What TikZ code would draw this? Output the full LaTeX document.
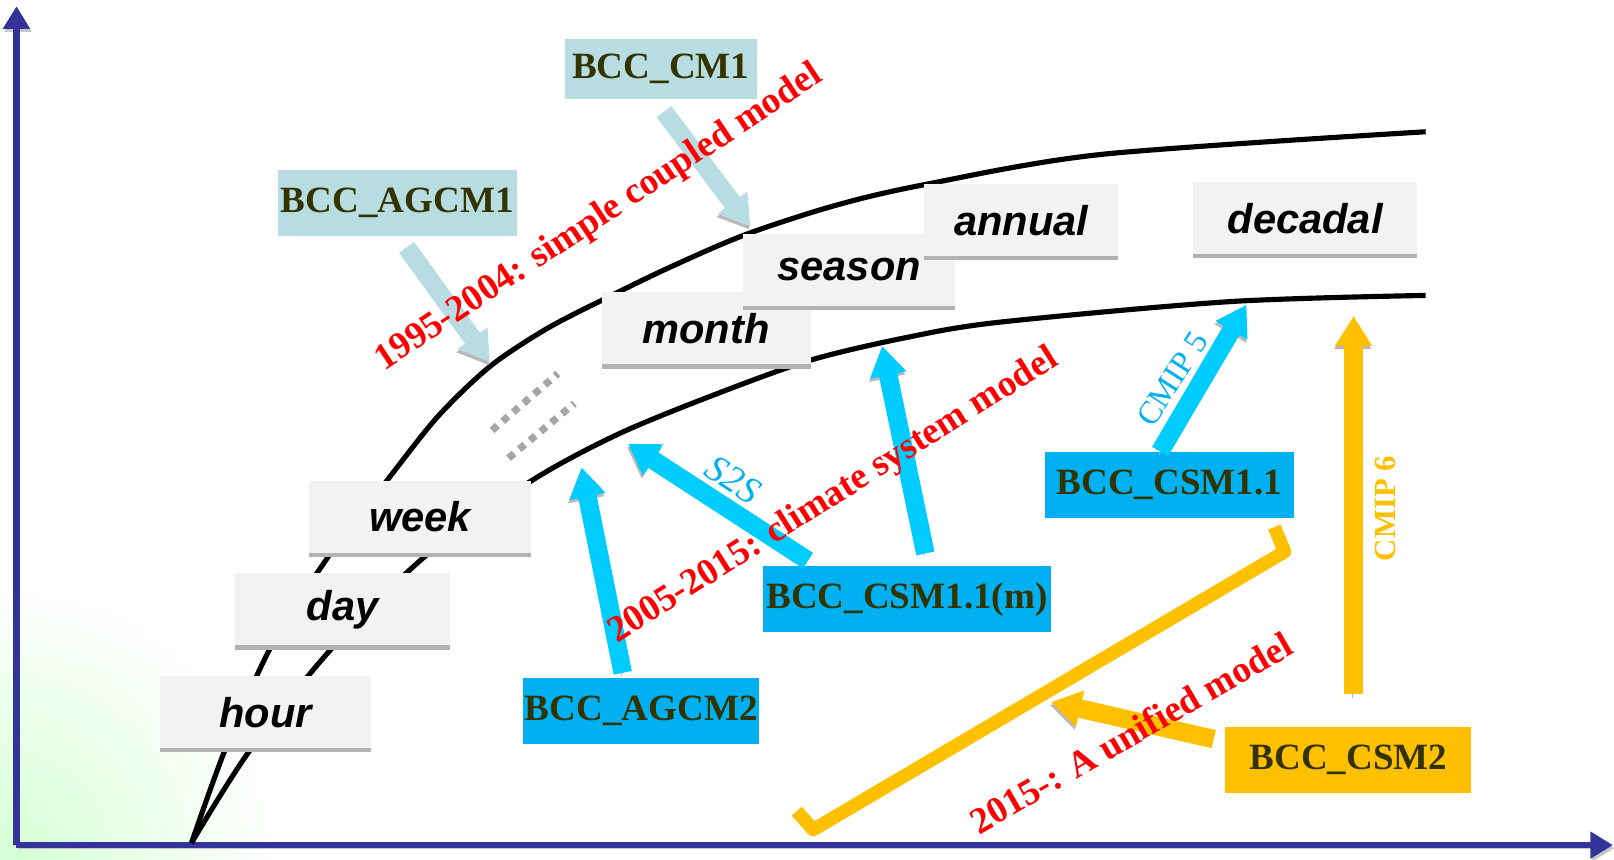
\documentclass[tikz,border=0pt]{standalone}
\usepackage{fontspec}
\setmainfont{Liberation Serif}
\newfontfamily\arialfont{Liberation Sans}
\usetikzlibrary{arrows.meta,shadows}

\definecolor{axisblue}{HTML}{333399}
\definecolor{paleblue}{HTML}{B7DDE3}
\definecolor{boxblue}{HTML}{00B0F0}
\definecolor{arrowblue}{HTML}{00CCFF}
\definecolor{gold}{HTML}{FFC000}
\definecolor{olive}{HTML}{333300}
\definecolor{scalegray}{HTML}{F2F2F2}

\tikzset{
  scalebox/.style={fill=scalegray, minimum height=14mm, inner sep=0pt,
    font=\arialfont\fontsize{23}{26}\selectfont\bfseries\itshape,
    drop shadow={shadow xshift=0mm, shadow yshift=-0.8mm, fill=black!30, opacity=1}},
  modelbox/.style={fill=#1, minimum height=12.8mm, inner sep=0pt, text=olive,
    font=\fontsize{20.5}{24}\selectfont\bfseries},
  era/.style={text=red, font=\fontsize{20.5}{24}\selectfont\bfseries},
  evolve/.style={line width=3.6mm, draw=#1, -{Triangle[length=5.8mm,width=6.8mm]},
    preaction={draw=black!28, transform canvas={xshift=-0.2mm,yshift=-0.6mm}}},
  scaleline/.style={line width=1mm, black},
  axis/.style={line width=1.3mm, axisblue, -{Triangle[length=4.4mm,width=5mm]},
    preaction={draw=black!22, transform canvas={xshift=0.3mm,yshift=-0.6mm}}},
  gapdots/.style={line width=1.4mm, black!35, dash pattern=on 1.4mm off 1.3mm},
}

\begin{document}
\begin{tikzpicture}[x=0.2mm,y=-0.2mm]
\useasboundingbox (0,0) rectangle (1568,835);

% green tint in the corner
\begin{scope}
\clip (0,0) rectangle (1568,835);
\shade[inner color=green!17, outer color=white] (0,835) circle (270);
\end{scope}

% axes
\coordinate (origin) at (16,821);
\draw[axis] (origin) -- (16,6);
\draw[axis] (origin) -- (1567,821);

% the two bounds of the time scales
\draw[scaleline] plot[smooth, tension=0.5] coordinates {(186,819) (220,725) (265,625)
  (325,532) (375,468) (425,405) (476,356) (530,320) (584,292) (650,260) (724,228)
  (810,200) (895,180) (1070,150) (1385,128)};
\draw[scaleline] plot[smooth, tension=0.5] coordinates {(186,819) (242,730) (324,628)
  (417,537) (518,466) (600,422) (690,385) (787,350) (880,328) (971,313) (1195,293)
  (1385,287)};

\draw[gapdots] (478,418) -- (542,363);
\draw[gapdots] (494,445) -- (558,392);

% time scales
\node[scalebox, minimum width=41mm]   (hour)    at (258,692) {hour};
\node[scalebox, minimum width=41.8mm] (day)     at (333,592) {day};
\node[scalebox, minimum width=43.2mm] (week)    at (408,502) {week};
\node[scalebox, minimum width=40.6mm] (month)   at (686,319) {month};
\node[scalebox, minimum width=41.2mm] (season)  at (825,262) {season};
\node[scalebox, minimum width=37.8mm] (annual)  at (992,214) {annual};
\node[scalebox, minimum width=43.6mm] (decadal) at (1268,212) {decadal};

% models
\node[modelbox=paleblue, minimum width=37.2mm, minimum height=11.6mm] (cm1) at (642,67) {BCC\_CM1};
\node[modelbox=paleblue, minimum width=46.4mm] (agcm1) at (386,197) {BCC\_AGCM1};
\node[modelbox=boxblue, minimum width=45.8mm] (agcm2) at (623,691) {BCC\_AGCM2};
\node[modelbox=boxblue, minimum width=56mm] (csm11m) at (881,582) {BCC\_CSM1.1(m)};
\node[modelbox=boxblue, minimum width=48.4mm] (csm11) at (1136,471) {BCC\_CSM1.1};
\node[modelbox=gold, minimum width=47.8mm] (csm2) at (1310,738) {BCC\_CSM2};

% arrow ends on the bounds
\coordinate (tipagcm1) at (476,352);
\coordinate (tipcm1) at (729,220);
\coordinate (tipagcm2) at (565,454);
\coordinate (tips2s) at (610,431);
\coordinate (tipcsm11m) at (857,336);
\coordinate (tipcmip5) at (1211,296);
\coordinate (tipcmip6) at (1315,307);
\coordinate (tipcsm2) at (1021,682);

\draw[evolve=paleblue] ([shift={(9,11)}]agcm1.south) -- (tipagcm1);
\draw[evolve=paleblue] ([shift={(3,12)}]cm1.south) -- (tipcm1);
\draw[evolve=arrowblue] ([shift={(-18,-5)}]agcm2.north) -- (tipagcm2);
\draw[evolve=arrowblue] ([shift={(-96,-5)}]csm11m.north) -- (tips2s);
\draw[evolve=arrowblue] ([shift={(18,-12)}]csm11m.north) -- (tipcsm11m);
\draw[evolve=arrowblue] ([shift={(-9,0)}]csm11.north) -- (tipcmip5);
\draw[evolve=gold] ([shift={(5,-31)}]csm2.north) -- (tipcmip6);
\draw[evolve=gold] ([shift={(-11,-20)}]csm2.west) -- (tipcsm2);

% bracket of the unified model
\draw[gold, line width=2.6mm, line join=round] (1238,512) -- (1248,536) -- (790,806) -- (774,788);

% labels
\node[text=boxblue, font=\fontsize{21}{24}\selectfont\itshape, rotate=-33] (s2s) at (712,466) {S2S};
\node[text=boxblue, font=\fontsize{18}{20}\selectfont, rotate=57] (cmip5) at (1139,368) {CMIP 5};
\node[text=gold, font=\fontsize{17}{20}\selectfont\bfseries, rotate=90] (cmip6) at (1346,494) {CMIP 6};

\node[era, rotate=33.5] (era1) at (582,212) {1995-2004: simple coupled model};
\node[era, rotate=32.2] (era2) at (810,482) {2005-2015: climate system model};
\node[era, rotate=30] (era3) at (1099,712) {2015-: A unified model};
\end{tikzpicture}
\end{document}
